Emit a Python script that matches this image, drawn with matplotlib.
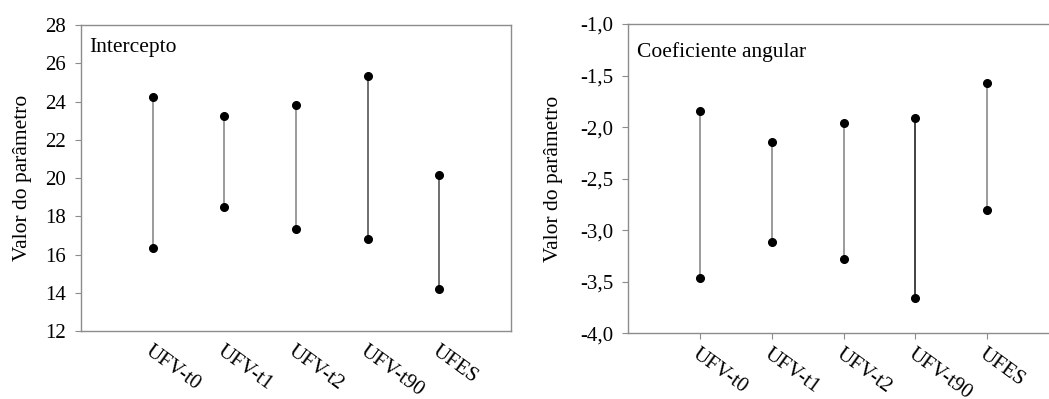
import matplotlib.pyplot as plt
from matplotlib.ticker import FuncFormatter

plt.rcParams['font.family'] = ['Liberation Serif', 'DejaVu Serif']

grupos = ['UFV-t0', 'UFV-t1', 'UFV-t2', 'UFV-t90', 'UFES']

# intervalos do intercepto (limite inferior, superior)
inter_inf = [16.32, 18.47, 17.35, 16.83, 14.18]
inter_sup = [24.25, 23.22, 23.83, 25.35, 20.17]

# intervalos do coeficiente angular
coef_inf = [-3.467, -3.111, -3.282, -3.662, -2.804]
coef_sup = [-1.841, -2.141, -1.957, -1.915, -1.575]

spine_col = '#8c8c8c'
line_cols = ['#8a8a8a', '#8a8a8a', '#8a8a8a', '#555555', '#555555']
line_cols2 = ['#8a8a8a', '#8a8a8a', '#8a8a8a', '#222222', '#8a8a8a']

fig = plt.figure(figsize=(10.49, 3.99), dpi=100)
ax1 = fig.add_axes([0.0772, 0.1704, 0.4099, 0.7669])
ax2 = fig.add_axes([0.5990, 0.1647, 0.4105, 0.7751])


def draw(ax, lo, hi, cols, show_xticks):
    xs = range(len(grupos))
    for x, a, b, c in zip(xs, lo, hi, cols):
        ax.plot([x, x], [a, b], color=c, lw=1.2, zorder=2)
    ax.plot(list(xs), lo, 'o', color='black', ms=5.5, zorder=3)
    ax.plot(list(xs), hi, 'o', color='black', ms=5.5, zorder=3)
    ax.set_xlim(-1, 5)
    ax.set_xticks(list(xs))
    ax.set_xticklabels(grupos, rotation=-36, ha='left', va='top',
                       rotation_mode='anchor', fontsize=15)
    for s in ax.spines.values():
        s.set_color(spine_col)
        s.set_linewidth(1.0)
    ax.tick_params(axis='y', direction='out', length=4, color=spine_col,
                   labelsize=15, pad=7)
    if show_xticks:
        ax.tick_params(axis='x', direction='out', length=4, color=spine_col, pad=4)
    else:
        ax.tick_params(axis='x', length=0, pad=8)
    ax.set_ylabel('Valor do parâmetro', fontsize=15.5)


draw(ax1, inter_inf, inter_sup, line_cols, False)
ax1.set_ylim(12, 28)
ax1.set_yticks(range(12, 29, 2))
ax1.text(0.02, 0.925, 'Intercepto', transform=ax1.transAxes, fontsize=15.5,
         ha='left', va='center')
ax1.yaxis.set_label_coords(-0.114, 0.5)

draw(ax2, coef_inf, coef_sup, line_cols2, True)
ax2.set_ylim(-4.0, -1.0)
ax2.set_yticks([-4.0, -3.5, -3.0, -2.5, -2.0, -1.5, -1.0])
ax2.yaxis.set_major_formatter(FuncFormatter(lambda v, p: ('%.1f' % v).replace('.', ',')))
ax2.text(0.02, 0.91, 'Coeficiente angular', transform=ax2.transAxes, fontsize=15.5,
         ha='left', va='center')
ax2.yaxis.set_label_coords(-0.151, 0.5)

fig.savefig('out.png', dpi=100)
